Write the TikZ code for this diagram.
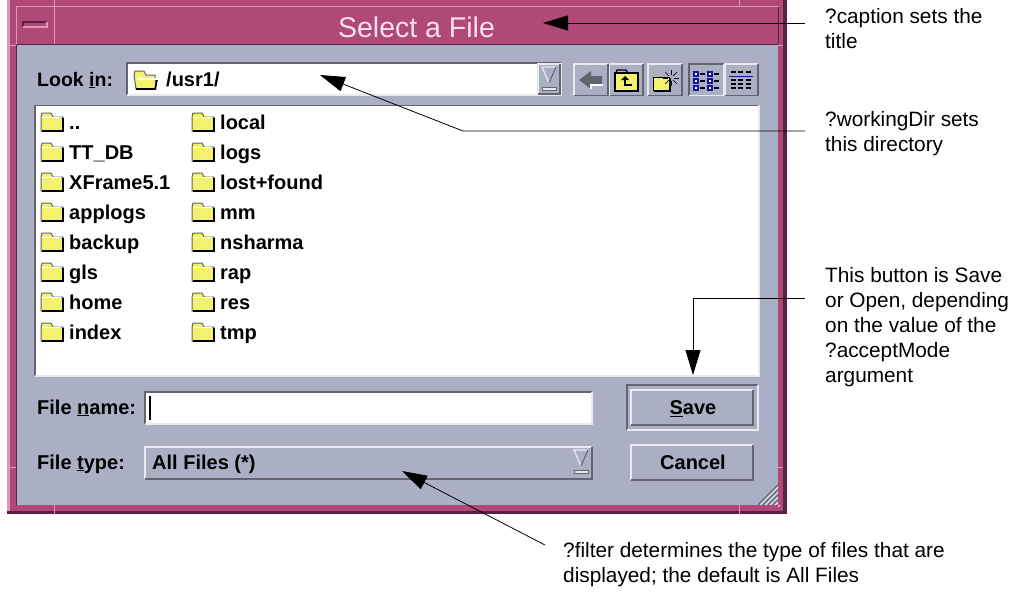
\documentclass[tikz,border=0pt]{standalone}
\usepackage{fontspec}
\usepackage{xcolor}
\setmainfont{Liberation Sans}
\usetikzlibrary{calc,arrows.meta,positioning}
\definecolor{frameMaroon}{RGB}{176,72,120}
\definecolor{frameDark}{RGB}{92,30,68}
\definecolor{framePink}{RGB}{226,150,182}
\definecolor{titlePink}{RGB}{250,225,238}
\definecolor{panelGray}{RGB}{170,175,196}
\definecolor{edgeDark}{RGB}{98,100,112}
\definecolor{edgeLight}{RGB}{232,234,238}
\definecolor{folderYellow}{RGB}{242,242,110}
\definecolor{listBlue}{RGB}{20,20,160}
\tikzset{
  guitext/.style={font=\fontsize{20}{22}\selectfont\bfseries, text=black, anchor=west, inner sep=0pt, text height=14pt, text depth=0pt},
  notetext/.style={font=\fontsize{20.8}{25}\selectfont, text=black, anchor=north west, align=left, inner sep=0pt},
  pointer/.style={black, line width=0.8pt, -{Triangle[length=25pt,width=15pt]}},
}
% x1 y1 x2 y2 top-left bottom-right
\newcommand{\bevelbox}[6]{
  \draw[#5, line width=1.6pt] (#1,#4) -- (#1,#2) -- (#3,#2);
  \draw[#6, line width=1.6pt] (#1,#4) -- (#3,#4) -- (#3,#2);
}
\newcommand{\foldericon}[2]{
  \begin{scope}[shift={(#1,#2)}]
    \fill[folderYellow, draw=edgeDark, line width=1pt] (0,-5) -- (1,-9) -- (10,-9) -- (12,-5) -- (22,-5) -- (22,9) -- (0,9) -- cycle;
    \draw[black, line width=1.8pt] (22,-4) -- (22,9) -- (1,9);
    \draw[white, line width=1pt] (1,-5) -- (20,-5);
  \end{scope}
}
\newcommand{\dropmark}[2]{
  \begin{scope}[shift={(#1,#2)}]
    \draw[edgeLight, line width=1.2pt] (-7,-10) -- (7,-10) -- (0,6) -- cycle;
    \draw[edgeDark, line width=1.2pt] (7,-10) -- (0,6);
    \fill[edgeLight, draw=edgeDark, line width=0.6pt] (-7,10) rectangle (7,13);
  \end{scope}
}
\begin{document}
\begin{tikzpicture}[x=1pt,y=-1pt]
\useasboundingbox (0,0) rectangle (1013,605);
\fill[white] (0,0) rectangle (1013,605);
% window frame
\fill[frameMaroon] (7,0) rectangle (787,514);
\fill[framePink] (7,0) rectangle (10,514);
\fill[frameDark] (783,0) rectangle (787,514);
\fill[frameDark] (7,511) rectangle (787,514);
\draw[framePink, line width=1pt] (16,6.5) -- (779,6.5);
\draw[framePink, line width=1pt] (54,0) -- (54,44);
\draw[framePink, line width=1pt] (739.5,0) -- (739.5,6);
\draw[framePink, line width=1pt] (16,7) -- (16,44);
\draw[frameDark, line width=1pt] (778,7) -- (778,44);
\draw[framePink, line width=1pt] (7,45.5) -- (16,45.5);
\draw[framePink, line width=1pt] (778,45.5) -- (783,45.5);
\draw[framePink, line width=1pt] (7,467) -- (16,467);
\draw[framePink, line width=1pt] (778,467) -- (783,467);
\draw[framePink, line width=1pt] (54,505) -- (54,514);
\draw[framePink, line width=1pt] (739.5,505) -- (739.5,514);
\fill[frameDark] (17,44) rectangle (778,45);
\fill[panelGray] (16,45) rectangle (778,505);
\draw[frameDark, line width=0.6pt] (16,45) -- (16,505);
\bevelbox{23}{22}{47}{27}{frameDark}{framePink}
\node[font=\fontsize{28.5}{30}\selectfont, text=titlePink, inner sep=0pt] (titlelabel) at (416.5,27) {Select a File};
% look-in row
\node[guitext, font=\fontsize{19.5}{22}\selectfont\bfseries] (lookinlabel) at (37,79) {Look \underline{i}n:};
\fill[white] (127,63) rectangle (538,95);
\bevelbox{127}{63}{561}{95}{edgeDark}{edgeLight}
\fill[panelGray] (538,64) rectangle (560,94);
\bevelbox{538}{64}{560}{94}{edgeLight}{edgeDark}
\dropmark{549}{77}
\begin{scope}[shift={(134,80)}]
  \fill[folderYellow, draw=edgeDark, line width=1pt] (0,-5) -- (1,-9) -- (10,-9) -- (12,-5) -- (21,-5) -- (22,9) -- (2,9) -- cycle;
  \draw[black, line width=1.6pt] (23,0) -- (21,9) -- (2,9);
  \draw[white, line width=1.2pt] (3,-1) -- (23,-1);
\end{scope}
\node[guitext] (dirlabel) at (166,79) {/usr1/};
% toolbar
\foreach \xa/\xb in {574/608,609.5/643,648/682,725/758}{
  \bevelbox{\xa}{64}{\xb}{95.5}{edgeLight}{edgeDark}
}
\bevelbox{689}{64}{723.5}{95.5}{edgeDark}{edgeLight}
\fill[edgeDark] (579,80) -- (591,71) -- (591,76) -- (602,76) -- (602,84) -- (591,84) -- (591,89) -- cycle;
\draw[white, line width=1.2pt] (591,89) -- (591,85) -- (603,85);
\fill[folderYellow, draw=black, line width=1.4pt] (615,73) -- (638,73) -- (638,91) -- (615,91) -- cycle;
\draw[black, line width=1.2pt] (616,73) -- (617,70) -- (626,70) -- (628,73);
\draw[black, line width=1.6pt] (625,77) -- (625,85) -- (632,85);
\fill[black] (621,80) -- (625,76) -- (629,80) -- cycle;
\fill[folderYellow, draw=black, line width=1pt] (653,77) -- (669,77) -- (669,90) -- (653,90) -- cycle;
\draw[black, line width=1.4pt] (670,78) -- (670,91) -- (654,91);
\foreach \ang in {0,45,...,315}{
  \draw[black, line width=0.7pt] ($(671,78)+(\ang:3)$) -- ($(671,78)+(\ang:8)$);
}
\foreach \ry in {74,81,88}{
  \foreach \rx in {696,710}{
    \fill[white, draw=listBlue, line width=1.4pt] (\rx-2,\ry-2) rectangle (\rx+2,\ry+2);
    \draw[black, line width=1.4pt] (\rx+4,\ry) -- (\rx+9,\ry);
  }
}
\draw[listBlue, line width=1pt] (729,76) -- (753,76);
\foreach \ry in {72,80,84,88}{
  \foreach \rx in {731,738,746}{
    \draw[black, line width=1.6pt] (\rx,\ry) -- (\rx+5,\ry);
  }
}
% file list
\fill[white] (35,105) rectangle (759,376);
\draw[edgeDark, line width=1.2pt] (35,376) -- (35,105.5) -- (759,105.5);
\draw[edgeLight, line width=1.2pt] (35,376) -- (759,376) -- (759,105);
\foreach \fname [count=\i from 0] in {..,TT\_DB,XFrame5.1,applogs,backup,gls,home,index}{
  \foldericon{41}{122+30*\i}
  \node[guitext] (leftfile\i) at (69,122+30*\i) {\fname};
}
\foreach \fname [count=\i from 0] in {local,logs,lost+found,mm,nsharma,rap,res,tmp}{
  \foldericon{192}{122+30*\i}
  \node[guitext] (rightfile\i) at (220,122+30*\i) {\fname};
}
% bottom rows
\node[guitext] (namelabel) at (37,407) {File \underline{n}ame:};
\fill[white] (145,392) rectangle (592,424);
\bevelbox{145}{392}{592}{424}{edgeDark}{edgeLight}
\draw[black, line width=1.2pt] (150,396) -- (150,420);
\node[guitext] (typelabel) at (37,462) {File \underline{t}ype:};
\bevelbox{145}{447}{592}{479}{edgeLight}{edgeDark}
\node[guitext] (typevalue) at (152,462) {All Files (*)};
\dropmark{581}{460}
\bevelbox{627}{385}{758}{430}{edgeDark}{edgeLight}
\bevelbox{631}{390}{753}{425}{edgeLight}{edgeDark}
\node[guitext, anchor=center] (savelabel) at (693,407.5) {\underline{S}ave};
\bevelbox{631}{445}{753}{480}{edgeLight}{edgeDark}
\node[guitext, anchor=center] (cancellabel) at (693,462) {Cancel};
% resize grip
\foreach \k in {0,5,...,20}{
  \draw[edgeDark, line width=1.2pt] (758+\k,505) -- (778,485+\k);
  \draw[edgeLight, line width=0.8pt] (760+\k,505) -- (778,487+\k);
}
% notes
\node[notetext] (captionnote) at (825,8) {?caption sets the\\title};
\node[notetext] (dirnote) at (825,111) {?workingDir sets\\this directory};
\node[notetext] (savenote) at (825,267) {This button is Save\\or Open, depending\\on the value of the\\?acceptMode\\argument};
\node[notetext] (filternote) at (563,542) {?filter determines the type of files that are\\displayed; the default is All Files};
\coordinate (captionstart) at (805,23);
\coordinate (captiontip) at (543,23);
\coordinate (dirstart) at (805,131);
\coordinate (dirbend) at (463,131);
\coordinate (dirtip) at (320,75);
\coordinate (savestart) at (805,298);
\coordinate (savebend) at (693,298);
\coordinate (savetip) at (693,375);
\coordinate (filterstart) at (545,545);
\coordinate (filtertip) at (402,471);
\draw[pointer] (captionstart) -- (captiontip);
\draw[pointer] (dirstart) -- (dirbend) -- (dirtip);
\draw[pointer] (savestart) -- (savebend) -- (savetip);
\draw[pointer] (filterstart) -- (filtertip);
\end{tikzpicture}
\end{document}
